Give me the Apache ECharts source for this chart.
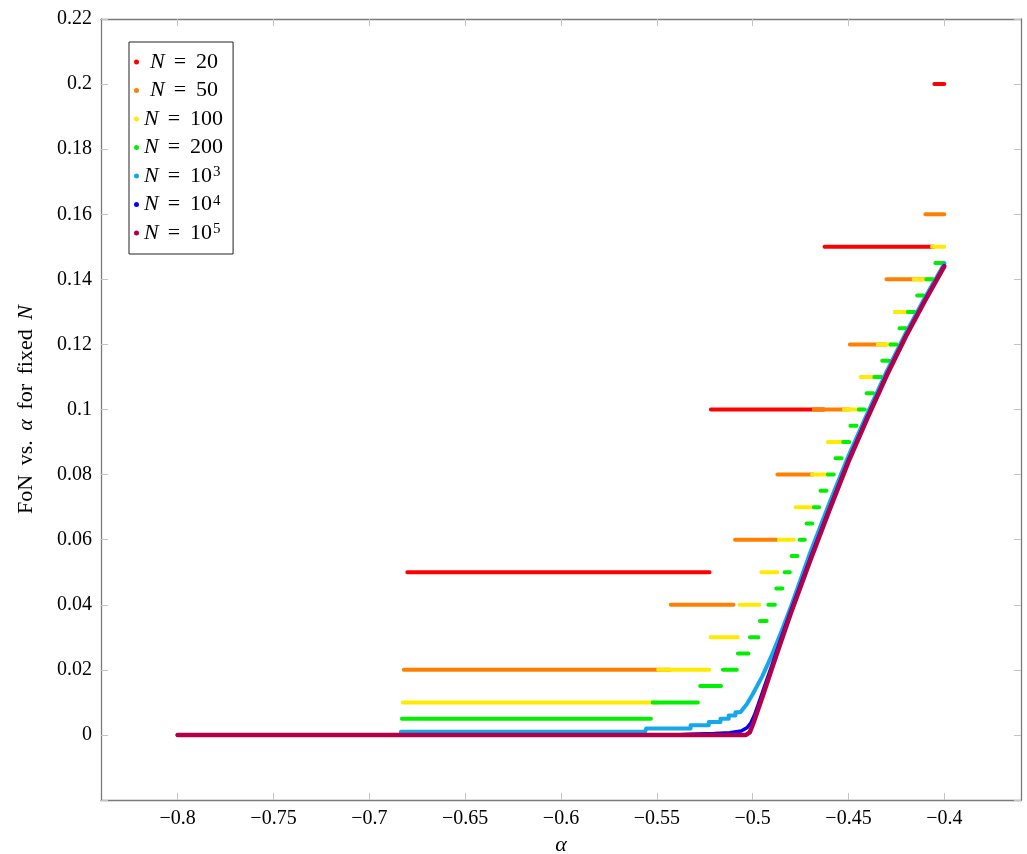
<!DOCTYPE html>
<html><head><meta charset="utf-8">
<script src="https://cdn.jsdelivr.net/npm/echarts@6/dist/echarts.min.js"></script>
<style>html,body{margin:0;padding:0;background:#fff}#c{width:1027px;height:854px}</style>
</head><body><div id="c"></div>
<script>
// ---------- data ----------
const xTicks = [-0.8, -0.75, -0.7, -0.65, -0.6, -0.55, -0.5, -0.45, -0.4];
const seriesNames = ['N = 20', 'N = 50', 'N = 100', 'N = 200', 'N = 10^3', 'N = 10^4', 'N = 10^5'];
const seriesColors = ['#ff0000', '#ff8000', '#ffea00', '#00f000', '#14a8ea', '#0000ff', '#b3004a'];

// step series: [alphaStart, alphaEnd, FoN]
const stepsN20 = [[-0.8,-0.6802,0],[-0.6802,-0.5225,0.05],[-0.5218,-0.4628,0.1],[-0.4625,-0.4055,0.15],[-0.4052,-0.4,0.2]];
const stepsN50 = [[-0.8,-0.682,0],[-0.682,-0.543,0.02],[-0.5427,-0.51,0.04],[-0.5092,-0.4874,0.06],[-0.4871,-0.4684,0.08],[-0.4681,-0.4496,0.1],[-0.4493,-0.4305,0.12],[-0.4302,-0.4102,0.14],[-0.4099,-0.4,0.16]];
const stepsN100 = [[-0.8,-0.6825,0],[-0.6825,-0.5497,0.01],[-0.5493,-0.5226,0.02],[-0.5219,-0.5078,0.03],[-0.5068,-0.4965,0.04],[-0.4955,-0.4871,0.05],[-0.4863,-0.4785,0.06],[-0.4776,-0.4692,0.07],[-0.469,-0.461,0.08],[-0.4608,-0.4526,0.09],[-0.4524,-0.444,0.1],[-0.4437,-0.435,0.11],[-0.4347,-0.4262,0.12],[-0.4259,-0.4163,0.13],[-0.416,-0.4067,0.14],[-0.4064,-0.4,0.15]];
const stepsN200 = [[-0.8,-0.683,0],[-0.683,-0.5531,0.005],[-0.5522,-0.5286,0.01],[-0.5274,-0.5165,0.015],[-0.5155,-0.5083,0.02],[-0.5077,-0.5022,0.025],[-0.5014,-0.497,0.03],[-0.4962,-0.4927,0.035],[-0.4918,-0.4884,0.04],[-0.4877,-0.4845,0.045],[-0.4833,-0.4806,0.05],[-0.4797,-0.4766,0.055],[-0.4755,-0.4728,0.06],[-0.4719,-0.4689,0.065],[-0.4681,-0.4653,0.07],[-0.4646,-0.4615,0.075],[-0.4608,-0.4577,0.08],[-0.4568,-0.4536,0.085],[-0.4528,-0.4496,0.09],[-0.449,-0.4458,0.095],[-0.4446,-0.4415,0.1],[-0.4406,-0.4371,0.105],[-0.4365,-0.4328,0.11],[-0.4324,-0.4288,0.115],[-0.4281,-0.425,0.12],[-0.4234,-0.4198,0.125],[-0.4191,-0.4155,0.13],[-0.4142,-0.4108,0.135],[-0.4094,-0.4059,0.14],[-0.4047,-0.4,0.145]];

// dense series: [alpha, FoN]
const curveN1000 = [[-0.8,0],[-0.6835,0],[-0.6835,0.001],[-0.5561,0.001],[-0.5555,0.002],[-0.5324,0.002],[-0.5324,0.003],[-0.5229,0.003],[-0.5229,0.004],[-0.5168,0.004],[-0.5168,0.005],[-0.5125,0.005],[-0.5125,0.006],[-0.509,0.006],[-0.509,0.007],[-0.5064,0.007],[-0.503,0.0095],[-0.5,0.0125],[-0.495,0.018],[-0.49,0.0245],[-0.485,0.0318],[-0.48,0.0395],[-0.47,0.056],[-0.46,0.0712],[-0.45,0.0858],[-0.44,0.099],[-0.43,0.1118],[-0.42,0.1236],[-0.41,0.1345],[-0.4,0.1448]];
const curveN10000 = [[-0.8,0],[-0.54,0],[-0.533,0.0002],[-0.52,0.0004],[-0.512,0.0007],[-0.506,0.0012],[-0.503,0.0022],[-0.501,0.0036],[-0.499,0.0062],[-0.497,0.0095],[-0.494,0.0146],[-0.49,0.0213],[-0.485,0.03],[-0.48,0.0383],[-0.47,0.0542],[-0.46,0.0695],[-0.45,0.0845],[-0.44,0.098],[-0.43,0.1108],[-0.42,0.1228],[-0.41,0.1338],[-0.4,0.1442]];
const curveN100000 = [[-0.8,0],[-0.5035,0],[-0.5015,0.0008],[-0.4995,0.0038],[-0.495,0.0115],[-0.49,0.0203],[-0.485,0.029],[-0.48,0.0375],[-0.47,0.0535],[-0.46,0.069],[-0.45,0.084],[-0.44,0.0975],[-0.43,0.1105],[-0.42,0.1225],[-0.41,0.1335],[-0.4,0.144]];

// ---------- build chart ----------
function stepsToData(steps) {
  const out = [];
  steps.forEach(function (s) { out.push([s[0], s[2]], [s[1], s[2]], [null, null]); });
  return out;
}
const seriesData = [stepsToData(stepsN20), stepsToData(stepsN50), stepsToData(stepsN100), stepsToData(stepsN200), curveN1000, curveN10000, curveN100000];
const lineWidths = [4, 4, 4, 4, 4, 3.5, 4.5];

const FONT = 'Liberation Serif';
const minusFmt = function (v) { return (v < 0 ? '\u2212' : '') + Math.abs(v); };

function legendFmt(name) {
  const m = name.match(/^N = (\d+)(?:\^(\d))?$/);
  const lead = (m[2] || m[1].length >= 3) ? 'i' : 'ii';
  return '{' + lead + '|N}{e|=}{t|' + m[1] + '}' + (m[2] ? '{s|' + m[2] + '}' : '');
}

const tickStyle = { color: '#c4c4c4', width: 1 };
const lineStyleAxis = { color: '#7a7a7a', width: 1.3 };

const option = {
  animation: false,
  backgroundColor: '#fff',
  grid: { left: 101, right: 6, top: 19, bottom: 54, containLabel: false, outerBoundsMode: 'none' },
  legend: {
    orient: 'vertical', left: 129, top: 42,
    backgroundColor: '#fff', borderColor: '#222', borderWidth: 1,
    padding: [9, 10, 10, 5], itemGap: 6.5, itemWidth: 5, itemHeight: 5, icon: 'circle',
    data: seriesNames, formatter: legendFmt, selectedMode: false,
    textStyle: {
      fontFamily: FONT, fontSize: 22, color: '#000', lineHeight: 22,
      rich: {
        i: { fontFamily: FONT, fontSize: 22, fontStyle: 'italic', color: '#000' },
        ii: { fontFamily: FONT, fontSize: 22, fontStyle: 'italic', color: '#000', padding: [0, 0, 0, 6] },
        e: { fontFamily: FONT, fontSize: 22, color: '#000', padding: [0, 9, 0, 9] },
        t: { fontFamily: FONT, fontSize: 22, color: '#000', padding: [0, 0, 0, 1] },
        s: { fontFamily: FONT, fontSize: 15, color: '#000', verticalAlign: 'top', lineHeight: 12, padding: [0, 0, 0, 1] }
      }
    }
  },
  xAxis: [{
    type: 'value', min: -0.84, max: -0.36, position: 'bottom',
    axisLine: { show: true, onZero: false, lineStyle: lineStyleAxis },
    axisTick: { show: true, inside: true, length: 7, customValues: xTicks, lineStyle: tickStyle },
    axisLabel: { customValues: xTicks, formatter: minusFmt, fontFamily: FONT, fontSize: 20, color: '#000', margin: 9 },
    splitLine: { show: false },
    name: '{i|\u03b1}', nameLocation: 'middle', nameGap: 33,
    nameTextStyle: { fontFamily: FONT, fontSize: 20, color: '#000', rich: { i: { fontFamily: FONT, fontSize: 22, fontStyle: 'italic', color: '#000' } } }
  }, {
    type: 'value', min: -0.84, max: -0.36, position: 'top',
    axisLine: { show: true, onZero: false, lineStyle: lineStyleAxis },
    axisTick: { show: true, inside: true, length: 7, customValues: xTicks, lineStyle: tickStyle },
    axisLabel: { show: false }, splitLine: { show: false }
  }],
  yAxis: [{
    type: 'value', min: -0.02, max: 0.22, interval: 0.02, position: 'left',
    axisLine: { show: true, onZero: false, lineStyle: lineStyleAxis },
    axisTick: { show: true, inside: true, length: 7, lineStyle: tickStyle },
    axisLabel: { formatter: function (v) { return v < -1e-9 ? '' : String(+v.toFixed(2)); }, fontFamily: FONT, fontSize: 20, color: '#000', margin: 9 },
    splitLine: { show: false },
    name: 'FoN{sp| }vs.{sp| }{i|\u03b1}{sp| }for{sp| }fixed{sp| }{i|N}', nameLocation: 'middle', nameGap: 64, nameRotate: 90,
    nameTextStyle: { fontFamily: FONT, fontSize: 22, color: '#000', rich: {
      i: { fontFamily: FONT, fontSize: 22, fontStyle: 'italic', color: '#000' },
      sp: { fontFamily: FONT, fontSize: 22, color: '#000', padding: [0, 2, 0, 2] }
    } }
  }, {
    type: 'value', min: -0.02, max: 0.22, interval: 0.02, position: 'right',
    axisLine: { show: true, onZero: false, lineStyle: lineStyleAxis },
    axisTick: { show: true, inside: true, length: 7, lineStyle: tickStyle },
    axisLabel: { show: false }, splitLine: { show: false }
  }],
  series: seriesNames.map(function (n, k) {
    return {
      name: n, type: 'line', xAxisIndex: 0, yAxisIndex: 0,
      data: seriesData[k], showSymbol: false, symbol: 'circle', connectNulls: false, silent: true,
      color: seriesColors[k], itemStyle: { color: seriesColors[k] },
      lineStyle: { color: seriesColors[k], width: lineWidths[k], cap: 'round', join: 'round' },
      z: 2 + k
    };
  })
};
const chart = echarts.init(document.getElementById('c'), null, { renderer: 'canvas' });
chart.setOption(option);
</script>
</body></html>
